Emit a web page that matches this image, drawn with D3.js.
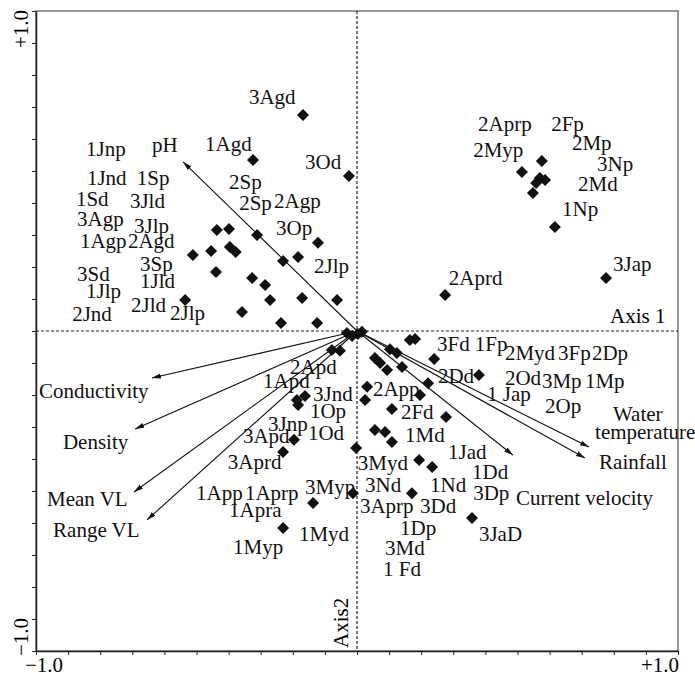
<!DOCTYPE html>
<html>
<head>
<meta charset="utf-8">
<script src="https://cdn.jsdelivr.net/npm/d3@7"></script>
<style>
  body { margin: 0; background: #fff; }
  text { font-family: "Liberation Serif", "Times New Roman", serif; }
</style>
</head>
<body>
<div id="chart"></div>
<script>
// site scores (axis 1, axis 2)
const sitePoints = [
    [-0.187, 0.750], [-0.360, 0.594], [-0.028, 0.538],
    [-0.485, 0.351], [-0.443, 0.354], [-0.346, 0.333], [-0.135, 0.306],
    [-0.568, 0.264], [-0.505, 0.278], [-0.440, 0.292], [-0.420, 0.274],
    [-0.256, 0.243], [-0.204, 0.257], [-0.488, 0.205], [-0.363, 0.184],
    [-0.318, 0.160], [-0.301, 0.108], [-0.190, 0.115], [-0.069, 0.108],
    [-0.595, 0.108], [-0.398, 0.066], [-0.263, 0.028], [-0.138, 0.028],
    [-0.035, -0.007], [-0.017, -0.017], [0.003, -0.010], [0.017, -0.003],
    [-0.087, -0.066], [-0.059, -0.069],
    [-0.208, -0.240], [-0.180, -0.226], [-0.204, -0.257],
    [-0.218, -0.378], [-0.256, -0.420], [-0.152, -0.597], [-0.256, -0.684],
    [-0.003, -0.406], [-0.014, -0.563],
    [0.035, -0.194], [0.028, -0.240], [0.062, -0.344], [0.097, -0.351], [0.121, -0.385],
    [0.183, -0.031], [0.201, -0.028], [0.114, -0.063], [0.138, -0.076],
    [0.062, -0.094], [0.080, -0.111], [0.104, -0.135], [0.156, -0.125],
    [0.267, -0.097], [0.422, -0.153], [0.246, -0.181], [0.218, -0.222],
    [0.121, -0.271], [0.308, -0.299], [0.215, -0.448], [0.260, -0.472],
    [0.190, -0.563], [0.398, -0.649],
    [0.640, 0.590], [0.571, 0.552], [0.633, 0.531], [0.651, 0.524],
    [0.620, 0.514], [0.609, 0.479], [0.685, 0.361], [0.862, 0.184], [0.305, 0.125]
];

// site names, placed where the figure prints them (start of text, baseline)
const siteLabels = [
    {text: '3Agd', x: -0.374, y: 0.788}, {text: '1Jnp', x: -0.938, y: 0.608},
    {text: '1Agd', x: -0.526, y: 0.625}, {text: '3Od', x: -0.180, y: 0.563},
    {text: '1Jnd', x: -0.935, y: 0.507}, {text: '1Sp', x: -0.762, y: 0.507},
    {text: '2Sp', x: -0.443, y: 0.493}, {text: '1Sd', x: -0.973, y: 0.434},
    {text: '3Jld', x: -0.786, y: 0.427}, {text: '2Sp', x: -0.408, y: 0.420},
    {text: '2Agp', x: -0.287, y: 0.427}, {text: '3Agp', x: -0.969, y: 0.365},
    {text: '3Jlp', x: -0.772, y: 0.340}, {text: '3Op', x: -0.280, y: 0.333},
    {text: '1Agp', x: -0.959, y: 0.288}, {text: '2Agd', x: -0.793, y: 0.288},
    {text: '3Sp', x: -0.751, y: 0.208}, {text: '2Jlp', x: -0.149, y: 0.201},
    {text: '3Sd', x: -0.969, y: 0.174}, {text: '1Jld', x: -0.751, y: 0.149},
    {text: '1Jlp', x: -0.938, y: 0.115}, {text: '2Jld', x: -0.782, y: 0.066},
    {text: '2Jnd', x: -0.986, y: 0.035}, {text: '2Jlp', x: -0.647, y: 0.038},
    {text: '2Aprp', x: 0.419, y: 0.694}, {text: '2Fp', x: 0.672, y: 0.694},
    {text: '2Myp', x: 0.402, y: 0.604}, {text: '2Mp', x: 0.744, y: 0.628},
    {text: '3Np', x: 0.831, y: 0.556}, {text: '2Md', x: 0.765, y: 0.486},
    {text: '1Np', x: 0.710, y: 0.399}, {text: '3Jap', x: 0.886, y: 0.208},
    {text: '2Aprd', x: 0.318, y: 0.160},
    {text: '2Apd', x: -0.232, y: -0.149}, {text: '1Apd', x: -0.325, y: -0.198},
    {text: '3Jnd', x: -0.152, y: -0.243}, {text: '1Op', x: -0.163, y: -0.302},
    {text: '3Jnp', x: -0.308, y: -0.347}, {text: '1Od', x: -0.170, y: -0.378},
    {text: '3Apd', x: -0.395, y: -0.389}, {text: '3Aprd', x: -0.447, y: -0.479},
    {text: '1App', x: -0.557, y: -0.587}, {text: '1Aprp', x: -0.388, y: -0.587},
    {text: '3Myp', x: -0.180, y: -0.566}, {text: '1Apra', x: -0.443, y: -0.646},
    {text: '1Myd', x: -0.201, y: -0.729}, {text: '1Myp', x: -0.429, y: -0.774},
    {text: '3Fd', x: 0.277, y: -0.069}, {text: '1Fp', x: 0.408, y: -0.069},
    {text: '2Myd', x: 0.512, y: -0.101}, {text: '3Fp', x: 0.696, y: -0.101},
    {text: '2Dp', x: 0.813, y: -0.101}, {text: '2Dd', x: 0.280, y: -0.181},
    {text: '2Od', x: 0.512, y: -0.188}, {text: '3Mp', x: 0.640, y: -0.198},
    {text: '1Mp', x: 0.789, y: -0.198}, {text: '2App', x: 0.055, y: -0.226},
    {text: '1 Jap', x: 0.450, y: -0.243}, {text: '2Op', x: 0.651, y: -0.285},
    {text: '2Fd', x: 0.152, y: -0.306}, {text: '1Md', x: 0.166, y: -0.385},
    {text: '1Jad', x: 0.315, y: -0.444}, {text: '3Myd', x: 0.003, y: -0.483},
    {text: '1Dd', x: 0.398, y: -0.514}, {text: '3Nd', x: 0.028, y: -0.559},
    {text: '1Nd', x: 0.253, y: -0.559}, {text: '3Dp', x: 0.402, y: -0.587},
    {text: '3Aprp', x: 0.010, y: -0.632}, {text: '3Dd', x: 0.218, y: -0.632},
    {text: '1Dp', x: 0.149, y: -0.708}, {text: '3JaD', x: 0.422, y: -0.729},
    {text: '3Md', x: 0.097, y: -0.778}, {text: '1 Fd', x: 0.090, y: -0.851}
];

// environmental variables (arrow tips)
const envVars = [
    {name: 'pH', x: -0.602, y: 0.587},
    {name: 'Conductivity', x: -0.710, y: -0.163},
    {name: 'Density', x: -0.768, y: -0.340},
    {name: 'Mean VL', x: -0.772, y: -0.559},
    {name: 'Range VL', x: -0.727, y: -0.656},
    {name: 'Water temperature', x: 0.803, y: -0.403},
    {name: 'Rainfall', x: 0.789, y: -0.441},
    {name: 'Current velocity', x: 0.540, y: -0.431}
];

const envLabels = [
    {text: 'pH', x: -0.710, y: 0.622},
    {text: 'Conductivity', x: -1.101, y: -0.233},
    {text: 'Density', x: -1.018, y: -0.410},
    {text: 'Mean VL', x: -1.073, y: -0.608},
    {text: 'Range VL', x: -1.052, y: -0.715},
    {text: 'Water', x: 0.886, y: -0.313},
    {text: 'temperature', x: 0.824, y: -0.375},
    {text: 'Rainfall', x: 0.838, y: -0.479},
    {text: 'Current velocity', x: 0.550, y: -0.604}
];

const axisTicks = d3.range(-10, 11).map(k => k / 9);
const tickLabels = [{value: -1, text: '\u22121.0'}, {value: 1, text: '+1.0'}];

const width = 695;
const height = 676;
const margin = {top: 11, bottom: 25, left: 36, right: 17};
const fontSize = 21;

const svg = d3.select('#chart')
    .append('svg')
        .attr('width', width)
        .attr('height', height);

const x = d3.scaleLinear()
    .domain([-10 / 9, 10 / 9])
    .range([margin.left, width - margin.right]);

const y = d3.scaleLinear()
    .domain([-10 / 9, 10 / 9])
    .range([height - margin.bottom, margin.top]);

svg.append('defs').append('marker')
    .attr('id', 'head')
    .attr('markerUnits', 'userSpaceOnUse')
    .attr('markerWidth', 10)
    .attr('markerHeight', 8)
    .attr('viewBox', '0 -4 10 8')
    .attr('refX', 9)
    .attr('refY', 0)
    .attr('orient', 'auto')
    .append('path')
        .attr('d', 'M0,-2.6L9,0L0,2.6Z')
        .attr('fill', '#111');

// frame
svg.append('rect')
    .attr('x', x(-10 / 9))
    .attr('y', y(10 / 9))
    .attr('width', x(10 / 9) - x(-10 / 9))
    .attr('height', y(-10 / 9) - y(10 / 9))
    .attr('fill', 'none')
    .attr('stroke', '#555')
    .attr('stroke-width', 1.2);

// dotted zero lines
svg.append('line')
    .attr('x1', x(-10 / 9)).attr('x2', x(10 / 9))
    .attr('y1', y(0)).attr('y2', y(0))
    .attr('stroke', '#222').attr('stroke-width', 1.2)
    .attr('stroke-dasharray', '3,2');
svg.append('line')
    .attr('x1', x(0)).attr('x2', x(0))
    .attr('y1', y(10 / 9)).attr('y2', y(-10 / 9))
    .attr('stroke', '#222').attr('stroke-width', 1.2)
    .attr('stroke-dasharray', '3,2');

function xAxis(g) {
    g.attr('transform', `translate(0, ${y(-10 / 9)})`)
        .call(d3.axisBottom(x).tickValues(axisTicks).tickSize(4).tickSizeOuter(0).tickFormat(''))
        .attr('color', '#222');
    g.select('.domain').attr('stroke-width', 1.5);
}
function yAxis(g) {
    g.attr('transform', `translate(${x(-10 / 9)}, 0)`)
        .call(d3.axisLeft(y).tickValues(axisTicks).tickSize(4).tickSizeOuter(0).tickFormat(''))
        .attr('color', '#222');
    g.select('.domain').attr('stroke-width', 1.5);
}
svg.append('g').call(xAxis);
svg.append('g').call(yAxis);

// tick labels, pushed outwards from the ±1 ticks as in the figure
svg.append('g')
    .selectAll('text')
    .data(tickLabels)
    .join('text')
        .attr('x', d => x(d.value) - 5)
        .attr('y', height - 4)
        .attr('text-anchor', d => d.value < 0 ? 'end' : 'start')
        .attr('font-size', fontSize)
        .text(d => d.text);

svg.append('g')
    .selectAll('text')
    .data(tickLabels)
    .join('text')
        .attr('transform', d => `translate(28, ${d.value < 0 ? y(d.value) - 1 : y(d.value) + 5}) rotate(-90)`)
        .attr('text-anchor', d => d.value < 0 ? 'end' : 'start')
        .attr('font-size', fontSize)
        .text(d => d.text);

// axis names
svg.append('text')
    .attr('x', x(0.876))
    .attr('y', y(0.028))
    .attr('font-size', fontSize)
    .text('Axis 1');
svg.append('text')
    .attr('transform', `translate(${x(0) - 9}, ${y(-10 / 9) - 3}) rotate(-90)`)
    .attr('font-size', fontSize)
    .text('Axis2');

// arrows
svg.append('g')
    .selectAll('line')
    .data(envVars)
    .join('line')
        .attr('x1', x(0))
        .attr('y1', y(0))
        .attr('x2', d => x(d.x))
        .attr('y2', d => y(d.y))
        .attr('stroke', '#111')
        .attr('stroke-width', 1.1)
        .attr('marker-end', 'url(#head)');

// sites
svg.append('g')
    .attr('fill', '#111')
    .selectAll('path')
    .data(sitePoints)
    .join('path')
        .attr('transform', d => `translate(${x(d[0])}, ${y(d[1])})`)
        .attr('d', 'M0,-6L6,0L0,6L-6,0Z');

svg.append('g')
    .attr('font-size', fontSize)
    .attr('fill', '#111')
    .selectAll('text')
    .data(siteLabels.concat(envLabels))
    .join('text')
        .attr('x', d => x(d.x))
        .attr('y', d => y(d.y))
        .text(d => d.text);
</script>
</body>
</html>
